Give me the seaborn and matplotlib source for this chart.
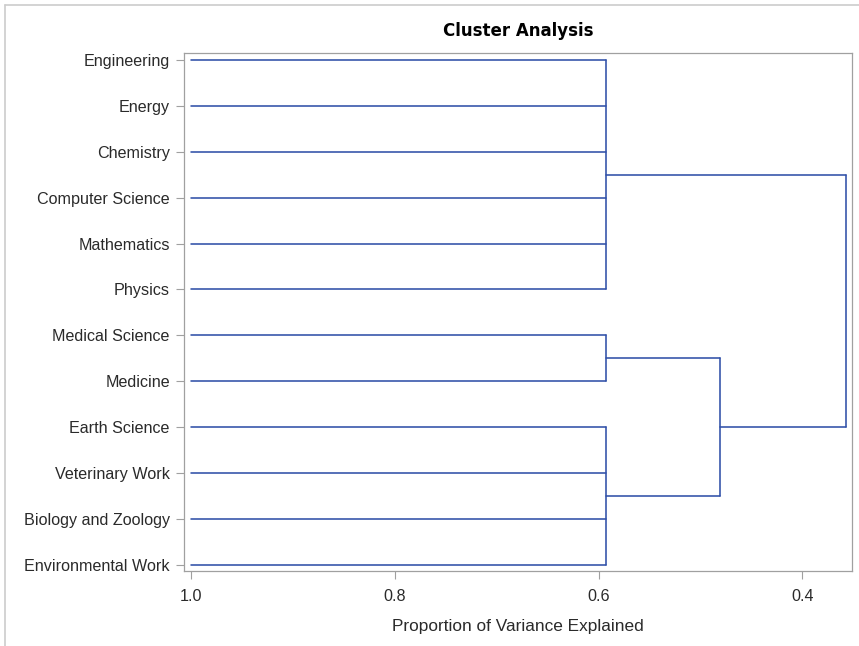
import matplotlib
matplotlib.use("Agg")
import matplotlib.pyplot as plt
import seaborn as sns
import pandas as pd
from matplotlib.lines import Line2D

# ---- data ----
leaves = ["Engineering", "Energy", "Chemistry", "Computer Science", "Mathematics",
          "Physics", "Medical Science", "Medicine", "Earth Science", "Veterinary Work",
          "Biology and Zoology", "Environmental Work"]
leaf_height = 1.0
cluster_names = ["CL_A", "CL_B", "CL_C", "CL_BC", "CL_ALL"]
cluster_children = [
    ["Engineering", "Energy", "Chemistry", "Computer Science", "Mathematics", "Physics"],
    ["Medical Science", "Medicine"],
    ["Earth Science", "Veterinary Work", "Biology and Zoology", "Environmental Work"],
    ["CL_B", "CL_C"],
    ["CL_A", "CL_BC"],
]
cluster_heights = [0.593, 0.593, 0.593, 0.481, 0.357]
x_ticks = [1.0, 0.8, 0.6, 0.4]
title = "Cluster Analysis"
x_label = "Proportion of Variance Explained"

# ---- build segments ----
pos = {name: float(i) for i, name in enumerate(leaves)}
hgt = {name: leaf_height for name in leaves}
rows = []
seg = 0
for name, children, h in zip(cluster_names, cluster_children, cluster_heights):
    ys = [pos[c] for c in children]
    for c in children:
        rows.append((seg, hgt[c], pos[c])); rows.append((seg, h, pos[c])); seg += 1
    rows.append((seg, h, min(ys))); rows.append((seg, h, max(ys))); seg += 1
    pos[name] = (min(ys) + max(ys)) / 2
    hgt[name] = h
df = pd.DataFrame(rows, columns=["seg", "x", "y"])

# ---- plot ----
sns.set_theme(style="white")
plt.rcParams["font.family"] = ["Liberation Sans", "DejaVu Sans"]

fig = plt.figure(figsize=(8.59, 6.46), dpi=100)
ax = fig.add_axes([184 / 859, 1 - 571 / 646, (852 - 184) / 859, (571 - 53) / 646])

sns.lineplot(data=df, x="x", y="y", units="seg", estimator=None, sort=False,
             color="#3050a8", linewidth=1.15, ax=ax, legend=False)

ax.set_xlim(1.0073, 0.3512)
ax.set_ylim(len(leaves) - 1 + 0.13, -0.15)
ax.set_yticks(range(len(leaves)))
ax.set_yticklabels(leaves)
ax.set_xticks(x_ticks)
ax.set_xticklabels([f"{t:.1f}" for t in x_ticks])
ax.tick_params(axis="both", which="both", length=5.8, width=0.8, color="#a0a0a0",
               labelsize=11.6, labelcolor="#2a2a2a", direction="out",
               left=True, bottom=True)
ax.tick_params(axis="y", pad=4.4)
ax.tick_params(axis="x", pad=7)
for s in ax.spines.values():
    s.set_color("#a0a0a0")
    s.set_linewidth(0.9)
ax.set_xlabel(x_label, fontsize=12.4, color="#2a2a2a", labelpad=11)
ax.set_ylabel("")
ax.set_title(title, fontsize=12, fontweight="bold", color="#000000", pad=12,
             family=["DejaVu Sans"])

# outer border (top and left)
fig.add_artist(Line2D([5 / 859, 5 / 859], [0, 1 - 5 / 646], transform=fig.transFigure,
                      color="#cccccc", linewidth=1.2))
fig.add_artist(Line2D([5 / 859, 1], [1 - 5 / 646, 1 - 5 / 646], transform=fig.transFigure,
                      color="#cccccc", linewidth=1.2))

fig.savefig("out.png", dpi=100)
